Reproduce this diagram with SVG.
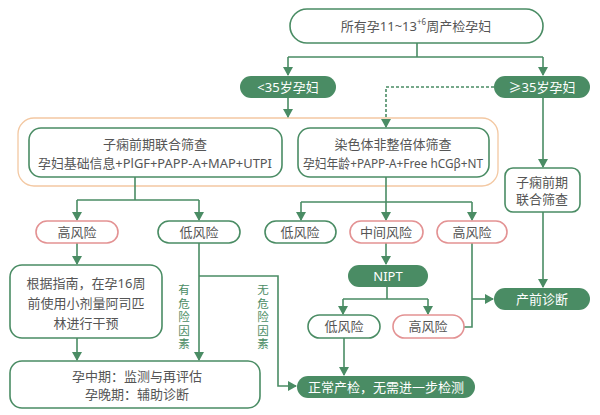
<svg xmlns="http://www.w3.org/2000/svg" width="600" height="415" viewBox="0 0 600 415">
<style>
text{font-family:"Noto Sans","Noto Sans CJK SC",sans-serif;font-size:13px;fill:#555;text-anchor:middle;dominant-baseline:central}
.box{fill:#fff;stroke:#4a8c64;stroke-width:1.6}
.pink{fill:#fff;stroke:#e39293;stroke-width:1.6}
.fill{fill:#4a8c64;stroke:none}
.w{fill:#fff}
.ln{fill:none;stroke:#4a8c64;stroke-width:1.6}
.dash{fill:none;stroke:#4a8c64;stroke-width:1.6;stroke-dasharray:3,2}
.vt{fill:#4a8c64;font-size:11.5px}
</style>
<defs>
<marker id="ar" markerWidth="10" markerHeight="10" refX="8" refY="5" orient="auto" markerUnits="userSpaceOnUse">
<path d="M0,0 L9,5 L0,10 Z" fill="#4a8c64"/>
</marker>
</defs>
<rect x="18" y="118" width="480" height="68" rx="16" fill="none" stroke="#f3c8a2" stroke-width="1.3"/>
<g id="connectors">
<path class="ln" d="M417,43 V57 M288,57 H543"/>
<path class="ln" d="M288,57 V75" marker-end="url(#ar)"/>
<path class="ln" d="M543,57 V75" marker-end="url(#ar)"/>
<path class="ln" d="M288,98 V117" marker-end="url(#ar)"/>
<path class="dash" d="M494,87 H386 V127" marker-end="url(#ar)"/>
<path class="ln" d="M543,98 V167" marker-end="url(#ar)"/>
<path class="ln" d="M543,212 V287" marker-end="url(#ar)"/>
<path class="ln" d="M135,177 V200 M77,200 H199"/>
<path class="ln" d="M77,200 V220" marker-end="url(#ar)"/>
<path class="ln" d="M199,200 V220" marker-end="url(#ar)"/>
<path class="ln" d="M386,177 V202 M301,202 H472"/>
<path class="ln" d="M301,202 V220" marker-end="url(#ar)"/>
<path class="ln" d="M386,202 V220" marker-end="url(#ar)"/>
<path class="ln" d="M472,202 V220" marker-end="url(#ar)"/>
<path class="ln" d="M386,243 V264" marker-end="url(#ar)"/>
<path class="ln" d="M387,287 V299 M343,299 H428"/>
<path class="ln" d="M343,299 V314" marker-end="url(#ar)"/>
<path class="ln" d="M428,299 V314" marker-end="url(#ar)"/>
<path class="ln" d="M464,327 H472 V243"/>
<path class="ln" d="M472,299 H493" marker-end="url(#ar)"/>
<path class="ln" d="M344,338 V375" marker-end="url(#ar)"/>
<path class="ln" d="M77,243 V264" marker-end="url(#ar)"/>
<path class="ln" d="M77,338 V360" marker-end="url(#ar)"/>
<path class="ln" d="M199,243 V360" marker-end="url(#ar)"/>
<path class="ln" d="M199,276 H278 V386 H296" marker-end="url(#ar)"/>
<text class="vt"><tspan x="184" y="289">有</tspan><tspan x="184" y="302.5">危</tspan><tspan x="184" y="316">险</tspan><tspan x="184" y="329.5">因</tspan><tspan x="184" y="343">素</tspan></text>
<text class="vt"><tspan x="263" y="289">无</tspan><tspan x="263" y="302.5">危</tspan><tspan x="263" y="316">险</tspan><tspan x="263" y="329.5">因</tspan><tspan x="263" y="343">素</tspan></text>
</g>
<g id="n-all"><rect class="box" x="290" y="9" width="253" height="34" rx="17"/><text x="416" y="26" font-size="14">所有孕11~13<tspan font-size="8" dy="-5">+6</tspan><tspan dy="5">周产检孕妇</tspan></text></g>
<g id="n-lt35"><rect class="fill" x="240" y="76" width="96" height="22" rx="11"/><text class="w" x="288" y="87">&lt;35岁孕妇</text></g>
<g id="n-ge35"><rect class="fill" x="494" y="76" width="96" height="22" rx="11"/><text class="w" x="542" y="87">≥35岁孕妇</text></g>
<g id="n-pe"><rect class="box" x="29" y="128" width="253" height="49" rx="12"/><text x="155" y="144">子痫前期联合筛查</text><text x="155" y="163" textLength="234" lengthAdjust="spacingAndGlyphs">孕妇基础信息+PlGF+PAPP-A+MAP+UTPI</text></g>
<g id="n-an"><rect class="box" x="298" y="128" width="191" height="49" rx="12"/><text x="393" y="144">染色体非整倍体筛查</text><text x="393" y="163" textLength="180" lengthAdjust="spacingAndGlyphs">孕妇年龄+PAPP-A+Free hCGβ+NT</text></g>
<g id="n-pe2"><rect class="box" x="505" y="168" width="75" height="44" rx="8"/><text x="542" y="182">子痫前期</text><text x="542" y="199">联合筛查</text></g>
<g id="n-hr1"><rect class="pink" x="36" y="221" width="82" height="22" rx="11"/><text x="77" y="232">高风险</text></g>
<g id="n-lr1"><rect class="box" x="158" y="221" width="82" height="22" rx="11"/><text x="199" y="232">低风险</text></g>
<g id="n-lr2"><rect class="box" x="265" y="221" width="71" height="22" rx="11"/><text x="300" y="232">低风险</text></g>
<g id="n-mr"><rect class="pink" x="350" y="221" width="73" height="22" rx="11"/><text x="386" y="232">中间风险</text></g>
<g id="n-hr2"><rect class="pink" x="437" y="221" width="70" height="22" rx="11"/><text x="472" y="232">高风险</text></g>
<g id="n-nipt"><rect class="fill" x="348" y="265" width="80" height="22" rx="11"/><text class="w" x="388" y="276">NIPT</text></g>
<g id="n-pd"><rect class="fill" x="494" y="288" width="96" height="22" rx="11"/><text class="w" x="542" y="299">产前诊断</text></g>
<g id="n-lr3"><rect class="box" x="308" y="315" width="72" height="23" rx="11.5"/><text x="344" y="326">低风险</text></g>
<g id="n-hr3"><rect class="pink" x="393" y="315" width="71" height="23" rx="11.5"/><text x="428" y="326">高风险</text></g>
<g id="n-asp"><rect class="box" x="10" y="265" width="152" height="73" rx="12"/><text x="86" y="283">根据指南，在孕16周</text><text x="86" y="303">前使用小剂量阿司匹</text><text x="86" y="323">林进行干预</text></g>
<g id="n-mon"><rect class="box" x="10" y="361" width="250" height="47" rx="12"/><text x="137" y="376">孕中期：监测与再评估</text><text x="137" y="394">孕晚期：辅助诊断</text></g>
<g id="n-norm"><rect class="fill" x="297" y="376" width="178" height="22" rx="11"/><text class="w" x="386" y="387">正常产检，无需进一步检测</text></g>
</svg>
